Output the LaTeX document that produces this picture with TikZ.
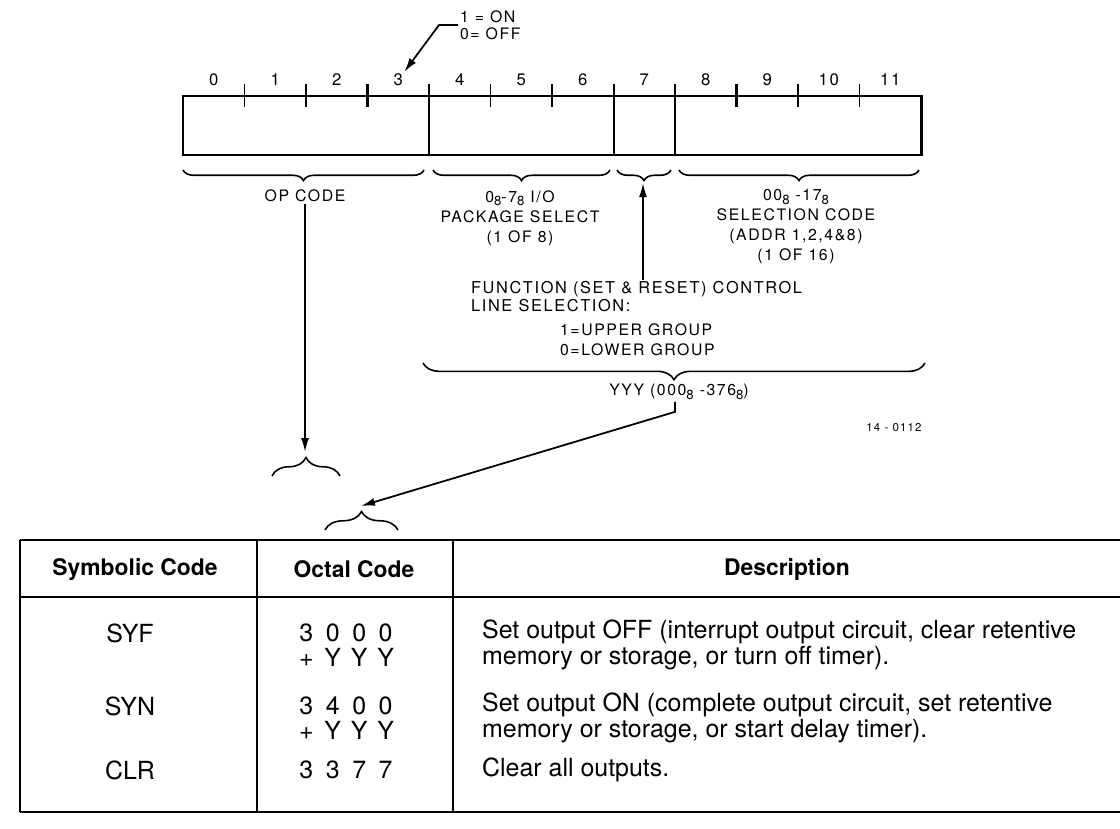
\documentclass[tikz,border=0pt]{standalone}
\usepackage{fontspec}
\setmainfont{TeX Gyre Heros}
\newfontfamily\wordfont[LetterSpace=10]{TeX Gyre Heros}
\newcommand{\eit}{\raisebox{-0.45ex}{\fontsize{7.5}{8}\selectfont 8}}
\newcommand{\cl}[1]{\makebox[1.06em]{#1}}
\newcommand{\octrow}[4]{\cl{#1}\cl{#2}\cl{#3}\cl{#4}}
\usetikzlibrary{arrows.meta,positioning,decorations.pathreplacing,calc}

\begin{document}
\begin{tikzpicture}[x=0.2mm, y=-0.2mm, >={Latex[length=2.8mm,width=1.6mm]},
  lbl/.style={font=\wordfont\fontsize{9}{11.4}\selectfont, inner sep=1pt, align=center},
  bitno/.style={font=\wordfont\fontsize{9.5}{11}\selectfont, inner sep=1pt},
  brc/.style={decorate, decoration={brace, amplitude=#1}, line width=0.9pt},
  brc/.default=6pt,
  tick/.style={line width=0.7pt},
  hdr/.style={font=\bfseries\fontsize{13}{15}\selectfont, inner sep=1pt},
  cell/.style={font=\fontsize{14.2}{14.5}\selectfont, inner sep=1pt, align=left},
  lead/.style={->, line width=1pt}]
  \useasboundingbox (0,0) rectangle (1120,828);

  % register word, bits 0..11
  \draw[line width=1.7pt] (183,96) rectangle (921,155);
  \foreach \x in {429,614,675} \draw[tick] (\x,84) -- (\x,155);
  \foreach \x in {244.5,306,490.5,798,859.5} \draw[tick] (\x,84) -- (\x,107);
  \foreach \x in {367.5,552,736.5} \draw[line width=1.4pt] (\x,84) -- (\x,107);
  \foreach \b in {0,...,11} \node[bitno] (b\b) at (213.75+61.5*\b,80) {\b};

  \node[lbl, anchor=west, align=left, font=\wordfont\fontsize{9}{9.5}\selectfont] (onoff) at (458,25) {1 = ON\\0= OFF};
  \draw[lead] (onoff.west) -- ++(-19,0) -- (b3);

  % field braces
  \draw[brc] (424,170) -- (183,170);
  \draw[brc] (610,170) -- (433,170);
  \draw[brc] (671,170) -- (617,170);
  \draw[brc] (919,170) -- (679,170);
  \coordinate (fnbr) at (643,183);

  \node[lbl] (opc) at (305,196) {OP CODE};
  \node[lbl] (pkg) at (520,218) {0\eit-7\eit\ I/O\\PACKAGE SELECT\\(1 OF 8)};
  \node[lbl] (sel) at (796,227) {00\eit\ -17\eit\\SELECTION CODE\\(ADDR 1,2,4\&8)\\(1 OF 16)};
  \node[lbl, anchor=west, align=left, font=\wordfont\fontsize{9.3}{10.2}\selectfont] (fnc) at (469,297) {FUNCTION (SET \& RESET) CONTROL\\LINE SELECTION:};
  \node[lbl, anchor=west, align=left] (grp) at (558,340) {1=UPPER GROUP\\0=LOWER GROUP};
  \draw[lead] (fnc.north -| fnbr) -- (fnbr);

  \draw[brc=9.5pt] (925,363) -- (423,363);
  \node[lbl] (yyy) at (679,392) {YYY (000\eit\ -376\eit)};
  \node[font=\wordfont\fontsize{6.5}{8}\selectfont] (fig) at (894,428) {14 - 0112};

  % braces over the table
  \draw[brc=10.5pt] (272,476) -- (340,476);
  \draw[brc=10.5pt] (325,530) -- (398,530);
  \coordinate (optip) at (305,452);
  \coordinate (octip) at (361,506);
  \draw[lead] (opc.south) -- (optip);
  \draw[lead] (yyy.south -| 675,0) -- ++(0,10) -- (octip);

  % table
  \draw[line width=1.2pt] (20,540) -- (1120,540);
  \draw[line width=1.2pt] (20,597) -- (1120,597);
  \draw[line width=1.2pt] (20,812) -- (1120,812);
  \foreach \x in {20,257,453} \draw[semithick] (\x,540) -- (\x,812);
  \node[hdr] (hsym) at (135,569) {Symbolic Code};
  \node[hdr] (hoct) at (354,569) {Octal Code};
  \node[hdr] (hdes) at (787,569) {Description};

  \node[cell] (syf) at (130,633) {SYF};
  \node[cell] (o1) at (346,645) {\octrow3000\\\octrow+YYY};
  \node[cell, anchor=west] (d1) at (480,645) {Set output OFF (interrupt output circuit, clear retentive\\memory or storage, or turn off timer).};
  \node[cell] (syn) at (130,706) {SYN};
  \node[cell] (o2) at (346,718) {\octrow3400\\\octrow+YYY};
  \node[cell, anchor=west] (d2) at (480,718) {Set output ON (complete output circuit, set retentive\\memory or storage, or start delay timer).};
  \node[cell] (clr) at (130,770) {CLR};
  \node[cell, anchor=west] (o3) at (o2.west |- 0,770) {\octrow3377};
  \node[cell, anchor=west] (d3) at (480,770) {Clear all outputs.};
\end{tikzpicture}
\end{document}
